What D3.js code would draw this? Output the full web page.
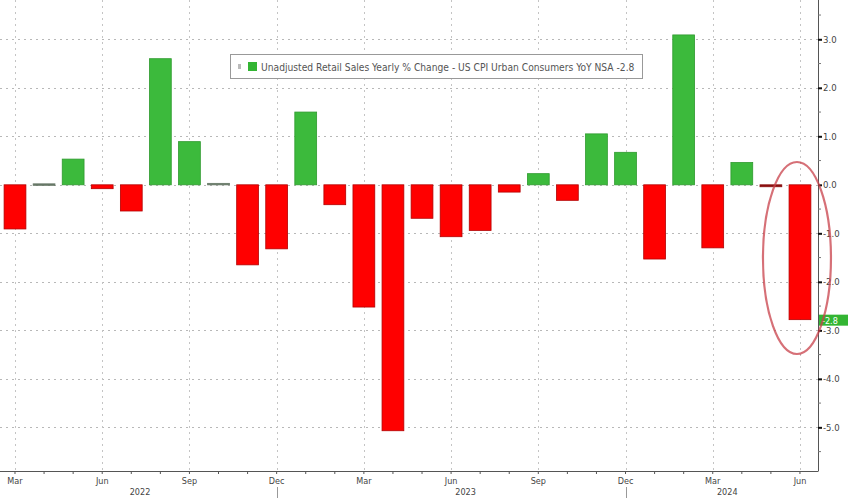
<!DOCTYPE html>
<html><head><meta charset="utf-8">
<script src="https://cdn.jsdelivr.net/npm/d3@7"></script>
<style>
html,body{margin:0;padding:0;background:#fff;}
svg{display:block;}
text{font-family:"DejaVu Sans Condensed","Liberation Sans Narrow","Arial Narrow",sans-serif;}
</style></head>
<body>
<svg id="c" width="848" height="498"></svg>
<script>
const months = ["Mar","Apr","May","Jun","Jul","Aug","Sep","Oct","Nov","Dec",
  "Jan","Feb","Mar","Apr","May","Jun","Jul","Aug","Sep","Oct","Nov","Dec",
  "Jan","Feb","Mar","Apr","May","Jun"];
const years = [2022,2022,2022,2022,2022,2022,2022,2022,2022,2022,
  2023,2023,2023,2023,2023,2023,2023,2023,2023,2023,2023,2023,
  2024,2024,2024,2024,2024,2024];
const values = [-0.91,0.02,0.53,-0.08,-0.54,2.6,0.89,0.03,-1.65,-1.32,
  1.5,-0.41,-2.52,-5.07,-0.69,-1.07,-0.94,-0.15,0.23,-0.32,1.05,0.67,
  -1.53,3.09,-1.3,0.46,-0.04,-2.78];
const yTicks = [3,2,1,0,-1,-2,-3,-4,-5];
const tickMonths = ["Mar","Jun","Sep","Dec"];
const yearLabels = [{year:"2022", from:0, to:9},{year:"2023", from:10, to:21},{year:"2024", from:22, to:27}];
const legendText = "Unadjusted Retail Sales Yearly % Change - US CPI Urban Consumers YoY NSA -2.8";
const lastLabel = "-2.8";

const svg = d3.select("#c");
const W = 848, H = 498;
const plotL = 0, plotR = 818, plotT = 0, plotB = 471;

const idx = d3.range(values.length);
const x = d3.scaleBand().domain(idx).range([0.46, 814.5]).paddingInner(0.25).paddingOuter(0.125);
const y = d3.scaleLinear().domain([-5.9, 3.81]).range([plotB, plotT]);
const cx = i => x(i) + x.bandwidth()/2;

// gridlines horizontal
svg.append("g").selectAll("line").data(yTicks).join("line")
  .attr("x1", plotL).attr("x2", plotR)
  .attr("y1", d => Math.round(y(d))+0.5).attr("y2", d => Math.round(y(d))+0.5)
  .attr("stroke", "#b8b8b8").attr("stroke-width", 1).attr("stroke-dasharray", "2,4");
// vertical gridlines at quarter months
const qIdx = idx.filter(i => tickMonths.includes(months[i]));
svg.append("g").selectAll("line").data(qIdx).join("line")
  .attr("x1", i => Math.round(cx(i))+0.5).attr("x2", i => Math.round(cx(i))+0.5)
  .attr("y1", plotT).attr("y2", plotB)
  .attr("stroke", "#c4c4c4").attr("stroke-width", 1).attr("stroke-dasharray", "2,4");

// bars
const tiny = v => Math.abs(v) < 0.06;
svg.append("g").selectAll("rect").data(idx).join("rect")
  .attr("x", i => x(i))
  .attr("width", x.bandwidth())
  .attr("y", i => Math.min(y(0), y(values[i])))
  .attr("height", i => Math.max(1.5, Math.abs(y(values[i]) - y(0))))
  .attr("fill", i => tiny(values[i]) ? (values[i] >= 0 ? "#667766" : "#8a1010") : (values[i] >= 0 ? "#3cba3c" : "#ff0000"))
  .attr("stroke", i => tiny(values[i]) ? (values[i] >= 0 ? "#667766" : "#8a1010") : (values[i] >= 0 ? "#2e9a2e" : "#b30000"))
  .attr("stroke-width", 0.8);

// right axis
const yAxis = d3.axisRight(y).tickValues(yTicks).tickSize(4).tickFormat(d3.format(".1f"));
const gy = svg.append("g").attr("transform", `translate(${plotR},0)`).call(yAxis);
gy.select(".domain").attr("stroke", "#555").attr("d", `M0.5,${plotT}V${plotB}`);
gy.selectAll(".tick line").attr("stroke", "#111").attr("stroke-width", 2);
gy.selectAll(".tick text").attr("fill", "#444").attr("font-size", 9.5).attr("x", 5)
  .text(d => d < 0 ? "-" + Math.abs(d).toFixed(1) : d.toFixed(1));
// minor y ticks
svg.append("g").selectAll("line").data(d3.range(-5.5, 3.6, 1)).join("line")
  .attr("x1", plotR).attr("x2", plotR+3)
  .attr("y1", d => y(d)).attr("y2", d => y(d))
  .attr("stroke", "#777");

// bottom axis
const gx = svg.append("g");
gx.append("line").attr("x1", plotL).attr("x2", plotR+0.5).attr("y1", plotB+0.5).attr("y2", plotB+0.5)
  .attr("stroke", "#555");
gx.selectAll("line.mt").data(idx).join("line").attr("class","mt")
  .attr("x1", i => cx(i)).attr("x2", i => cx(i))
  .attr("y1", plotB).attr("y2", plotB+3).attr("stroke", "#555");
gx.selectAll("text.ml").data(qIdx).join("text").attr("class","ml")
  .attr("x", i => cx(i)).attr("y", plotB+13).attr("text-anchor","middle")
  .attr("font-size", 9).attr("fill", "#444").text(i => months[i]);
gx.selectAll("text.yl").data(yearLabels).join("text").attr("class","yl")
  .attr("x", d => d.year === "2022" ? 140 : (cx(d.from)+cx(d.to))/2).attr("y", plotB+24).attr("text-anchor","middle")
  .attr("font-size", 9).attr("fill", "#444").text(d => d.year);
gx.selectAll("line.ys").data(yearLabels.slice(1)).join("line").attr("class","ys")
  .attr("x1", d => Math.round(cx(d.from-1))+0.5).attr("x2", d => Math.round(cx(d.from-1))+0.5)
  .attr("y1", plotB+16).attr("y2", H).attr("stroke", "#999");

// last value label
const last = values[values.length-1];
const ly = y(last) + 1;
svg.append("rect").attr("x", plotR+1).attr("y", ly-6).attr("width", 30).attr("height", 11).attr("fill", "#33b533");
svg.append("text").attr("x", plotR+4).attr("y", ly+3).attr("font-size", 9).attr("fill", "#fff").text(lastLabel);

// legend
const lg = svg.append("g").attr("transform", "translate(230,54)");
lg.append("rect").attr("x", 0.5).attr("y", 0.5).attr("width", 412).attr("height", 24)
  .attr("fill", "#fff").attr("stroke", "#999").attr("stroke-width", 1);
lg.append("rect").attr("x", 8).attr("y", 10).attr("width", 3).attr("height", 5).attr("fill", "#bbb");
lg.append("rect").attr("x", 18).attr("y", 8).attr("width", 9).attr("height", 9).attr("fill", "#33b533");
lg.append("text").attr("x", 31).attr("y", 16.5).attr("font-size", 10.2).attr("fill", "#555").text(legendText);

// highlight ellipse
svg.append("ellipse").attr("cx", cx(27)-3).attr("cy", 258).attr("rx", 34).attr("ry", 96)
  .attr("fill", "none").attr("stroke", "#c8404a").attr("stroke-opacity", 0.75).attr("stroke-width", 2.2);
</script>
</body></html>
